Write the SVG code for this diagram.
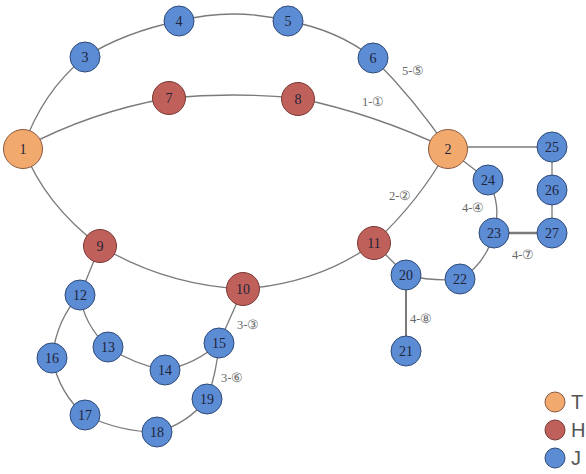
<svg xmlns="http://www.w3.org/2000/svg" width="586" height="474" viewBox="0 0 586 474">
<style>
.e{fill:none;stroke:#7a7a7a;stroke-width:1.3}
.T circle{fill:#F2A96E;stroke:#8a5a40;stroke-width:1}
.H circle{fill:#C0605A;stroke:#7a3a36;stroke-width:1}
.J circle{fill:#5B8CD4;stroke:#2f4a78;stroke-width:1}
.n text{font-family:"Liberation Serif","DejaVu Serif",serif;font-size:14px;text-anchor:middle;dominant-baseline:central;fill:#22243a}
.lb{font-family:"Liberation Serif","DejaVu Serif",serif;font-size:12.5px;fill:#666}
.lg{font-family:"Liberation Sans","DejaVu Sans",sans-serif;font-size:20px;fill:#555;dominant-baseline:central}
</style>
<rect width="586" height="474" fill="#fff"/>
<g id="edges">
<path class="e" d="M23 148 Q42 92 85 57"/>
<path class="e" d="M85 57 Q125 32 179 21"/>
<path class="e" d="M179 21 Q233 7 288 21"/>
<path class="e" d="M288 21 Q338 30 373 58"/>
<path class="e" d="M373 58 Q415 100 448 149"/>
<path class="e" d="M23 148 Q90 112 169 98"/>
<path class="e" d="M169 98 Q233 92 297 98"/>
<path class="e" d="M297 98 Q375 114 448 149"/>
<path class="e" d="M23 148 Q45 205 100 246"/>
<path class="e" d="M100 246 Q165 285 243 289"/>
<path class="e" d="M243 289 Q320 283 374 243"/>
<path class="e" d="M374 243 Q420 200 448 149"/>
<path class="e" d="M448 147 L552 147"/>
<path class="e" d="M552 147 L552 233"/>
<path class="e" d="M494 233 L552 233" style="stroke-width:2.4"/>
<path class="e" d="M448 149 L488 180"/>
<path class="e" d="M488 180 Q502 205 494 233"/>
<path class="e" d="M494 233 Q485 265 460 279"/>
<path class="e" d="M460 279 Q435 282 406 275"/>
<path class="e" d="M406 275 L374 243"/>
<path class="e" d="M406 275 L406 351" style="stroke-width:2"/>
<path class="e" d="M100 246 L80 295"/>
<path class="e" d="M80 295 Q84 325 108 347"/>
<path class="e" d="M108 347 Q135 365 165 370"/>
<path class="e" d="M165 370 Q196 364 219 343"/>
<path class="e" d="M219 343 L243 289"/>
<path class="e" d="M80 295 Q57 318 52 358"/>
<path class="e" d="M52 358 Q60 395 85 415"/>
<path class="e" d="M85 415 Q120 432 157 432"/>
<path class="e" d="M157 432 Q187 424 207 399"/>
<path class="e" d="M207 399 Q217 372 219 343"/>
</g>
<g id="edge-labels">
<text class="lb" x="402" y="75">5-⑤</text>
<text class="lb" x="362" y="106">1-①</text>
<text class="lb" x="389" y="200">2-②</text>
<text class="lb" x="462" y="212">4-④</text>
<text class="lb" x="512" y="259">4-⑦</text>
<text class="lb" x="410" y="323">4-⑧</text>
<text class="lb" x="237" y="329">3-③</text>
<text class="lb" x="221" y="382">3-⑥</text>
</g>
<g id="n1" class="n T"><circle cx="23" cy="149" r="19.5"/><text x="23" y="149">1</text></g>
<g id="n2" class="n T"><circle cx="448" cy="149" r="19.5"/><text x="448" y="149">2</text></g>
<g id="n3" class="n J"><circle cx="85" cy="57" r="15"/><text x="85" y="57">3</text></g>
<g id="n4" class="n J"><circle cx="179" cy="21" r="15"/><text x="179" y="21">4</text></g>
<g id="n5" class="n J"><circle cx="288" cy="21" r="15"/><text x="288" y="21">5</text></g>
<g id="n6" class="n J"><circle cx="373" cy="58" r="15"/><text x="373" y="58">6</text></g>
<g id="n7" class="n H"><circle cx="169" cy="98" r="16.5"/><text x="169" y="98">7</text></g>
<g id="n8" class="n H"><circle cx="298" cy="99" r="16.5"/><text x="298" y="99">8</text></g>
<g id="n9" class="n H"><circle cx="100" cy="246" r="16.5"/><text x="100" y="246">9</text></g>
<g id="n10" class="n H"><circle cx="243" cy="289" r="16.5"/><text x="243" y="289">10</text></g>
<g id="n11" class="n H"><circle cx="374" cy="243" r="16.5"/><text x="374" y="243">11</text></g>
<g id="n12" class="n J"><circle cx="80" cy="295" r="15"/><text x="80" y="295">12</text></g>
<g id="n13" class="n J"><circle cx="108" cy="347" r="15"/><text x="108" y="347">13</text></g>
<g id="n14" class="n J"><circle cx="165" cy="370" r="15"/><text x="165" y="370">14</text></g>
<g id="n15" class="n J"><circle cx="219" cy="343" r="15"/><text x="219" y="343">15</text></g>
<g id="n16" class="n J"><circle cx="52" cy="358" r="15"/><text x="52" y="358">16</text></g>
<g id="n17" class="n J"><circle cx="85" cy="415" r="15"/><text x="85" y="415">17</text></g>
<g id="n18" class="n J"><circle cx="157" cy="432" r="15"/><text x="157" y="432">18</text></g>
<g id="n19" class="n J"><circle cx="207" cy="399" r="15"/><text x="207" y="399">19</text></g>
<g id="n20" class="n J"><circle cx="406" cy="275" r="15"/><text x="406" y="275">20</text></g>
<g id="n21" class="n J"><circle cx="406" cy="351" r="15"/><text x="406" y="351">21</text></g>
<g id="n22" class="n J"><circle cx="460" cy="279" r="15"/><text x="460" y="279">22</text></g>
<g id="n23" class="n J"><circle cx="494" cy="233" r="15"/><text x="494" y="233">23</text></g>
<g id="n24" class="n J"><circle cx="488" cy="180" r="15"/><text x="488" y="180">24</text></g>
<g id="n25" class="n J"><circle cx="552" cy="147" r="15"/><text x="552" y="147">25</text></g>
<g id="n26" class="n J"><circle cx="552" cy="190" r="15"/><text x="552" y="190">26</text></g>
<g id="n27" class="n J"><circle cx="552" cy="233" r="15"/><text x="552" y="233">27</text></g>
<g id="legend">
<g class="T"><circle cx="555" cy="402" r="10"/></g>
<text class="lg" x="571" y="402">T</text>
<g class="H"><circle cx="555" cy="430" r="10"/></g>
<text class="lg" x="571" y="430">H</text>
<g class="J"><circle cx="555" cy="458" r="10"/></g>
<text class="lg" x="571" y="458">J</text>
</g>
</svg>
